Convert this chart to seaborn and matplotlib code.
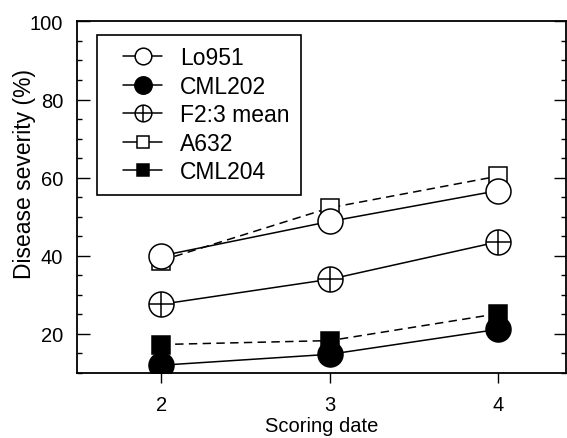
import numpy as np
import pandas as pd
import matplotlib
matplotlib.use('Agg')
import matplotlib.pyplot as plt
from matplotlib.lines import Line2D
from matplotlib.legend_handler import HandlerTuple, HandlerLine2D
from matplotlib.ticker import MultipleLocator
import seaborn as sns

# Data
dates = [2, 3, 4]
lo951 = [40.0, 48.8, 56.7]
cml202 = [12.0, 14.8, 21.2]
f23_mean = [27.6, 34.0, 43.6]
a632 = [38.8, 52.3, 60.4]
cml204 = [17.3, 18.3, 25.2]
labels = ['Lo951', 'CML202', 'F2:3 mean', 'A632', 'CML204']
yticks = [20, 40, 60, 80, 100]

df = pd.DataFrame({
    'date': dates * 5,
    'severity': lo951 + cml202 + f23_mean + a632 + cml204,
    'line': np.repeat(labels, len(dates)),
})

sns.set_style('ticks')
plt.rcParams['font.family'] = ['Liberation Sans', 'DejaVu Sans']
plt.rcParams.update({'text.color': 'black', 'axes.labelcolor': 'black',
                     'xtick.color': 'black', 'ytick.color': 'black'})

fig = plt.figure(figsize=(5.67, 4.39), dpi=100)
ax = fig.add_axes([0.136, 0.148, 0.862, 0.801])

lw = 1.1
dash = (0, (5.5, 3.5))
# marker styles per line (A632 drawn first so Lo951 sits on top of it)
styles = {
    'A632': dict(marker='s', markersize=13.5, markerfacecolor='white', linestyle=dash),
    'Lo951': dict(marker='o', markersize=18, markerfacecolor='white', linestyle='-'),
    'F2:3 mean': dict(marker='o', markersize=18, markerfacecolor='white', linestyle='-'),
    'CML204': dict(marker='s', markersize=13.5, markerfacecolor='black', linestyle=dash),
    'CML202': dict(marker='o', markersize=18, markerfacecolor='black', linestyle='-'),
}
for name, st in styles.items():
    sub = df[df['line'] == name]
    sns.lineplot(data=sub, x='date', y='severity', ax=ax, color='black', linewidth=lw,
                 markeredgecolor='black', markeredgewidth=lw, legend=False, **st)

# cross inside the F2:3 mean circles
sub = df[df['line'] == 'F2:3 mean']
sns.scatterplot(data=sub, x='date', y='severity', ax=ax, marker='+', s=18 ** 2,
                color='black', linewidth=lw, zorder=5, legend=False)

ax.set_xlim(1.5, 4.4)
ax.set_ylim(10, 100)
ax.set_xticks(dates)
ax.set_yticks(yticks)
ax.yaxis.set_minor_locator(MultipleLocator(5))

ax.tick_params(axis='y', which='both', direction='in', left=True, right=True,
               labelsize=14.5, pad=10, width=1, color='black', labelcolor='black')
ax.tick_params(axis='y', which='major', length=9)
ax.tick_params(axis='y', which='minor', length=3.5)
ax.tick_params(axis='x', which='both', direction='out', bottom=True, top=False,
               length=7, width=1, labelsize=14.5, pad=9, color='black', labelcolor='black')
for sp in ax.spines.values():
    sp.set_visible(True)
    sp.set_color('black')
    sp.set_linewidth(1.3)

ax.set_xlabel('Scoring date', fontsize=14.5, labelpad=1.5, color='black')
ax.set_ylabel('Disease severity (%)', fontsize=16.5, color='black')
ax.yaxis.set_label_coords(-0.085, 0.569)


# legend handles start a bit in from the frame
class ShiftedLine(HandlerLine2D):
    def create_artists(self, legend, orig_handle, xdescent, ydescent, width, height,
                       fontsize, trans):
        shift = 10.5
        return super().create_artists(legend, orig_handle, xdescent - shift, ydescent,
                                      width - shift, height, fontsize, trans)


def h(marker, ms, fc):
    return Line2D([], [], color='black', linewidth=lw, marker=marker, markersize=ms,
                  markerfacecolor=fc, markeredgecolor='black', markeredgewidth=lw)

handles = [
    h('o', 12, 'white'),
    h('o', 12.5, 'black'),
    (h('o', 12, 'white'), Line2D([], [], linestyle='none', marker='+', markersize=12,
                                 color='black', markeredgewidth=lw)),
    h('s', 8.5, 'white'),
    h('s', 9, 'black'),
]
leg = ax.legend(handles, labels,
                handler_map={Line2D: ShiftedLine(), tuple: HandlerTuple(ndivide=1)},
                loc='upper left', bbox_to_anchor=(0.041, 0.9616), borderaxespad=0,
                frameon=True, fancybox=False, edgecolor='black', framealpha=1,
                fontsize=16.5, handlelength=2.34, handletextpad=0.79,
                labelspacing=0.24, borderpad=0.5)
leg.get_frame().set_linewidth(1.2)
for t in leg.get_texts():
    t.set_color('black')

fig.savefig('out.png', dpi=100)
